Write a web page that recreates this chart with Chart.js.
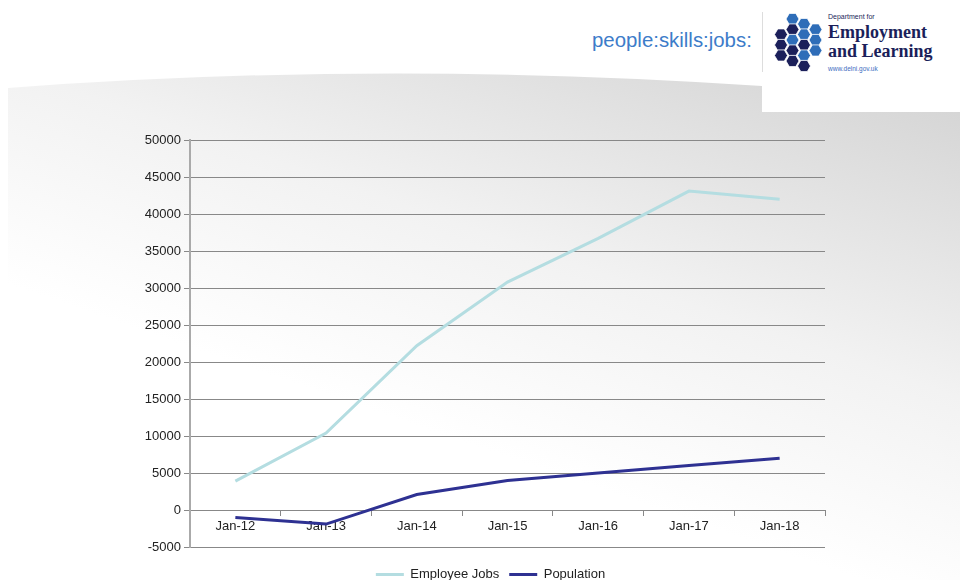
<!DOCTYPE html>
<html>
<head>
<meta charset="utf-8">
<script src="https://cdn.jsdelivr.net/npm/chart.js@4"></script>
<style>
  html, body { margin: 0; padding: 0; background: #fff; }
  #wrap { position: relative; width: 960px; height: 580px; overflow: hidden; font-family: "Liberation Sans", Arial, sans-serif; }
  #bg { position: absolute; left: 0; top: 0; }
  #chart { position: absolute; left: 0; top: 0; }
</style>
</head>
<body>
<div id="wrap">
  <svg id="bg" width="960" height="580" viewBox="0 0 960 580">
    <defs>
      <linearGradient id="panel" x1="1" y1="0" x2="0.35" y2="1">
        <stop offset="0" stop-color="#d2d2d2"/>
        <stop offset="0.45" stop-color="#f2f2f2"/>
        <stop offset="0.75" stop-color="#ffffff"/>
      </linearGradient>
    </defs>
    <path d="M8 88 Q 380 60 762 86 L 960 86 L 960 580 L 8 580 Z" fill="url(#panel)"/>
    <!-- logo box -->
    <rect x="762" y="0" width="198" height="112" fill="#fff"/>
    <line x1="762.5" y1="12" x2="762.5" y2="72" stroke="#ddd" stroke-width="1"/>
    <text x="592" y="47" font-size="20.4" fill="#3d7cc9" font-family="Liberation Sans, Arial">people:skills:jobs:</text>
    <g id="hex"></g>
    <text x="828" y="19" font-size="7" fill="#1b1f5a" font-family="Liberation Sans, Arial">Department for</text>
    <text x="828" y="38" font-size="18" fill="#1b1f5a" font-family="Liberation Serif, serif" font-weight="bold">Employment</text>
    <text x="828" y="57" font-size="18" fill="#1b1f5a" font-family="Liberation Serif, serif" font-weight="bold">and Learning</text>
    <text x="828" y="71" font-size="6.5" fill="#3d6cc0" font-family="Liberation Sans, Arial">www.delni.gov.uk</text>
  </svg>
  <canvas id="chart" width="960" height="580"></canvas>
</div>
<script>
// logo hexagon cluster (decoration)
const hexCells = [
  [0, 1, "#1b1f5a"], [0, 2, "#1b1f5a"], [0, 3, "#1b1f5a"],
  [1, 0, "#2e6db8"], [1, 1, "#1b1f5a"], [1, 2, "#2e6db8"], [1, 3, "#1b1f5a"], [1, 4, "#1b1f5a"],
  [2, 0, "#2e6db8"], [2, 1, "#2e6db8"], [2, 2, "#1b1f5a"], [2, 3, "#2e6db8"], [2, 4, "#1b1f5a"],
  [3, 1, "#2e6db8"], [3, 2, "#2e6db8"], [3, 3, "#2e6db8"]
];
const hexGroup = document.getElementById("hex");
hexCells.forEach(([c, r, col]) => {
  const cx = 781 + c * 11.5;
  const cy = 19 + r * 10.5 + (c % 2 ? 0 : 5);
  const pts = [];
  for (let i = 0; i < 6; i++) {
    const a = Math.PI / 3 * i;
    pts.push((cx + 6.5 * Math.cos(a)).toFixed(1) + "," + (cy + 6.5 * Math.sin(a)).toFixed(1));
  }
  const p = document.createElementNS("http://www.w3.org/2000/svg", "polygon");
  p.setAttribute("points", pts.join(" "));
  p.setAttribute("fill", col);
  p.setAttribute("stroke", "#fff");
  p.setAttribute("stroke-width", "0.8");
  hexGroup.appendChild(p);
});

// chart data
const categories = ["Jan-12", "Jan-13", "Jan-14", "Jan-15", "Jan-16", "Jan-17", "Jan-18"];
const employeeJobs = [3900, 10400, 22200, 30800, 36700, 43100, 42000];
const population = [-1000, -1900, 2100, 4000, 5000, 6000, 7000];
const yTicks = [-5000, 0, 5000, 10000, 15000, 20000, 25000, 30000, 35000, 40000, 45000, 50000];

Chart.defaults.font.family = '"Liberation Sans", Arial, sans-serif';
Chart.defaults.font.size = 13;
Chart.defaults.color = "#222";

// move the legend a little down and right of where the layout puts it
const legendShift = {
  id: "legendShift",
  afterLayout(chart) {
    const lg = chart.legend;
    if (lg) {
      lg.top += 11;
      lg.bottom += 11;
      lg.left += 13;
      lg.right += 13;
    }
  }
};

new Chart(document.getElementById("chart").getContext("2d"), {
  type: "line",
  data: {
    labels: categories,
    datasets: [
      {
        label: "Employee Jobs",
        data: employeeJobs,
        borderColor: "#b4dde1",
        backgroundColor: "#b4dde1",
        borderWidth: 3,
        pointRadius: 0,
        tension: 0
      },
      {
        label: "Population",
        data: population,
        borderColor: "#2e3192",
        backgroundColor: "#2e3192",
        borderWidth: 3,
        pointRadius: 0,
        tension: 0
      }
    ]
  },
  plugins: [legendShift],
  options: {
    responsive: false,
    animation: false,
    layout: { padding: { left: 130, right: 135, top: 140, bottom: 0 } },
    plugins: {
      tooltip: { enabled: false },
      legend: {
        position: "bottom",
        labels: {
          usePointStyle: true,
          pointStyle: "line",
          pointStyleWidth: 28,
          padding: 10,
          color: "#222"
        }
      }
    },
    scales: {
      x: {
        position: { y: 0 },
        offset: true,
        grid: {
          display: true,
          offset: true,
          drawOnChartArea: false,
          drawTicks: true,
          tickLength: 5,
          color: "#888"
        },
        border: { display: true, color: "#888" },
        ticks: { padding: 4, color: "#222" }
      },
      y: {
        min: -5000,
        max: 50000,
        afterBuildTicks: (scale) => { scale.ticks = yTicks.map(v => ({ value: v })); },
        afterFit: (scale) => { scale.width = 60; },
        grid: { color: "#888", tickLength: 6, drawTicks: true },
        border: { display: true, color: "#aaa", width: 2 },
        ticks: { padding: 3, color: "#222", callback: (v) => String(v) }
      }
    }
  }
});
</script>
</body>
</html>
